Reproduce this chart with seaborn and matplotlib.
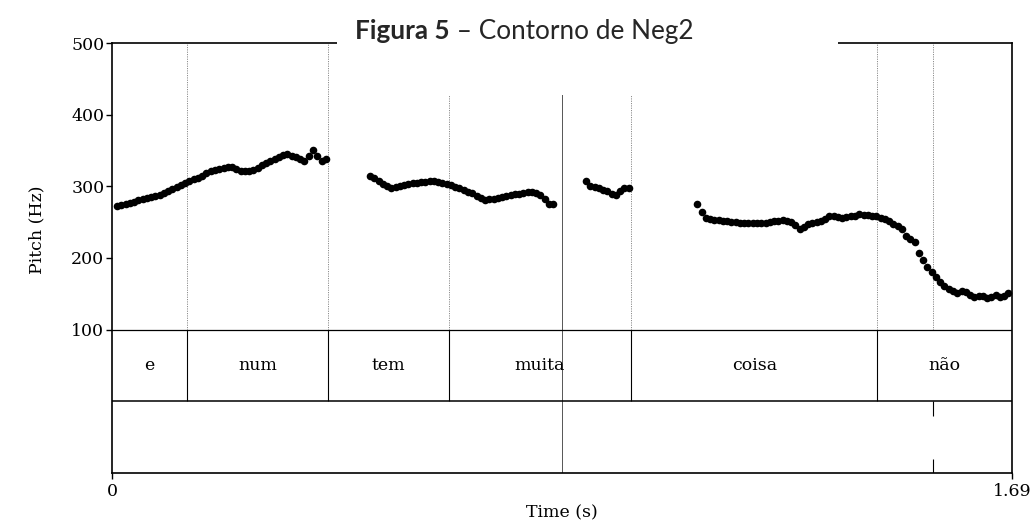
import numpy as np
import pandas as pd
import matplotlib
matplotlib.use("Agg")
import matplotlib.pyplot as plt
import seaborn as sns
from matplotlib.patches import Rectangle

# ---------------- data ----------------
frame_step = 0.008  # s, spacing of pitch frames

seg1_start = 0.0094
seg1_hz = [272, 273.7, 275.4, 277, 278.8, 280.4, 282, 283.6, 285.2, 286.7,
           288.3, 291, 293.6, 296.3, 299, 302, 304.7, 307.2, 309.8, 312.3,
           315, 318, 321, 323, 324.4, 325.8, 327, 326.3, 324.6, 322,
           321.4, 322, 322.7, 325.6, 329.2, 332, 335, 338, 341, 344.3,
           345, 343, 340.5, 338, 335, 343, 351, 343, 335, 338]

seg2_start = 0.4845
seg2_hz = [315, 311, 307.4, 303.8, 300.5, 297.2, 298.5, 300, 301.6, 302.8,
           304, 305, 305.8, 306.6, 307.3, 307, 306.3, 305, 303.4, 301.5,
           299.3, 297, 294.8, 292.6, 290.4, 287.2, 284, 280.5, 281.7, 282.8,
           284, 285.2, 286.4, 287.5, 288.7, 289.8, 291, 291.4, 291.8, 290.5,
           288, 283, 276, 276]

seg3_start = 0.8901
seg3_hz = [307.4, 300, 298.5, 297, 295.5, 294, 289.5, 288.5, 293.5, 297.5, 298]

seg4_start = 1.0992
seg4_hz = [276, 264, 256, 254.5, 253.5, 252.8, 252.1, 251.3, 250.5, 250,
           249.5, 249, 248.7, 248.4, 248.2, 248.3, 249.3, 250.3, 251.2, 252.2,
           252.4, 252, 250.6, 246.5, 241, 243, 247, 249.3, 250.6, 252,
           254.5, 259, 258.7, 257.5, 256, 256.8, 258, 259.3, 260.7, 260.5,
           259.9, 259.3, 258.7, 256.2, 253.8, 251, 248, 245, 240, 231,
           227, 222, 207, 197, 188, 180, 173, 166.5, 161, 157,
           154, 151.5, 153.5, 153, 149, 145.5, 147, 147.5, 143.5, 146,
           148, 146, 147, 151]

words = ["e", "num", "tem", "muita", "coisa", "não"]
word_bounds = [0, 0.1412, 0.4064, 0.6319, 0.9752, 1.4374, 1.69]
cursor_t = 0.8451
point_t = 1.5414

y_ticks = [100, 200, 300, 400, 500]
y_tick_labels = ["100", "200", "300", "400", "500"]
x_ticks = [0, 1.69]
x_tick_labels = ["0", "1.69"]

title_bold = "Figura 5"
title_rest = " \u2013 Contorno de Neg2"

# ---------------- build table ----------------
rows = []
for start, vals in [(seg1_start, seg1_hz), (seg2_start, seg2_hz),
                    (seg3_start, seg3_hz), (seg4_start, seg4_hz)]:
    t = start + frame_step * np.arange(len(vals))
    rows.append(pd.DataFrame({"time": t, "pitch": vals}))
df = pd.concat(rows, ignore_index=True)

# ---------------- figure ----------------
sns.set_theme(style="ticks")
plt.rcParams['font.family'] = ['DejaVu Serif']
FS = 12.5

W, H = 1034, 521
fig = plt.figure(figsize=(W / 100, H / 100), dpi=100)
ax = fig.add_axes([112 / W, 1 - 473 / H, 900 / W, 430 / H])

sns.scatterplot(data=df, x="time", y="pitch", ax=ax, color="black",
                s=30, linewidth=0, legend=False, zorder=3)

ax.set_xlim(0, 1.69)
ax.set_ylim(-100, 500)
ax.set_yticks(y_ticks)
ax.set_yticklabels(y_tick_labels)
ax.set_xticks(x_ticks)
ax.set_xticklabels(x_tick_labels)
ax.tick_params(axis="both", direction="out", length=4.5, width=1.0,
               colors="black", labelsize=FS)
ax.tick_params(axis="y", pad=1)
ax.tick_params(axis="x", pad=2.5)
for sp in ax.spines.values():
    sp.set_visible(True)
    sp.set_color("black")
    sp.set_linewidth(1.2)
ax.grid(False)

# tier separators
ax.axhline(100, color="black", lw=0.9, zorder=2)
ax.axhline(0, color="black", lw=1.1, zorder=2)

dot_style = dict(color="#8c8c8c", lw=0.7, linestyles=(0, (1.2, 1.2)), zorder=1)
for b in word_bounds[1:-1]:
    ax.vlines(b, 0, 100, color="black", lw=0.8, zorder=2)
    ax.vlines(b, 100, 500, **dot_style)
ax.vlines(point_t, 100, 500, **dot_style)
ax.vlines(point_t, -20, 0, color="black", lw=0.8, zorder=2)
ax.vlines(point_t, -100, -80, color="black", lw=0.8, zorder=2)
ax.vlines(cursor_t, -100, 500, color="#555555", lw=0.7, zorder=1)

for w, a, b in zip(words, word_bounds[:-1], word_bounds[1:]):
    ax.text((a + b) / 2, 50, w, ha="center", va="center", fontsize=FS,
            color="black")

ax.set_ylabel("Pitch (Hz)", fontsize=FS, color="black")
ax.yaxis.set_label_coords(-0.0744, 0.565)
ax.set_xlabel("Time (s)", fontsize=FS, color="black")
ax.xaxis.set_label_coords(0.5, -0.074)

# title box covering the top of the plot
fig.add_artist(Rectangle((337 / W, 1 - 95 / H), (838 - 337) / W, 95 / H,
                         transform=fig.transFigure, facecolor="white",
                         edgecolor="none", zorder=5))
ty = 1 - 39 / H
fig.text(450 / W, ty, title_bold, ha="right", va="baseline",
         fontfamily="Lato", fontweight="bold", fontsize=18.8, zorder=6)
fig.text(450 / W, ty, title_rest, ha="left", va="baseline",
         fontfamily="Lato", fontsize=18.8, zorder=6)

fig.savefig("out.png", dpi=100)
